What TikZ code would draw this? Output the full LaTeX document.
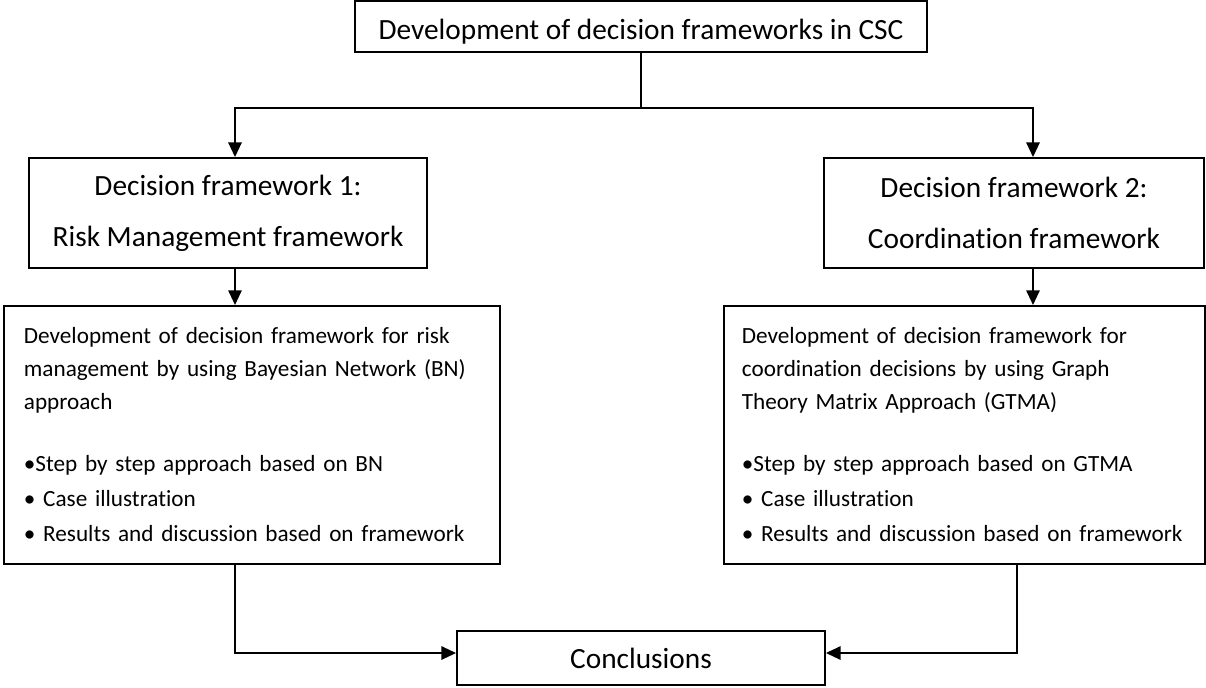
\documentclass[tikz,border=0pt]{standalone}
\usepackage{fontspec}
\setmainfont{Carlito}[Ligatures=NoCommon]
\usetikzlibrary{arrows.meta,positioning}
\newlength{\pxl}
\setlength{\pxl}{0.75pt}
\tikzset{
  >={Triangle[length=11pt,width=10pt]},
  every node/.style = {font=\fontsize{22}{38.25}\selectfont},
  box/.style = {draw, line width=1.4pt, align=center, inner sep=0pt},
  detail/.style = {draw, line width=1.4pt, align=left, inner xsep=20\pxl, inner ysep=0pt,
    minimum height=258\pxl, anchor=north west, font=\fontsize{17.4}{24.75}\selectfont},
  link/.style = {line width=1.4pt}
}

\begin{document}
\begin{tikzpicture}[x=0.75pt, y=-0.75pt]
\useasboundingbox (0,0) rectangle (1206,687);

\node[box, minimum width=572\pxl, minimum height=51\pxl, text height=18.75pt, text depth=0pt] (csc) at (641,26.5) {Development of decision frameworks in CSC};

\node[box, minimum width=398\pxl, minimum height=110\pxl] (fw1) at (228,213) {Decision framework 1:\\Risk Management framework};
\node[box, minimum width=380\pxl, minimum height=110\pxl] (fw2) at (1014,213) {Decision framework 2:\\Coordination framework};

\node[detail, text width=456\pxl] (bn) at (3,305) {Development of decision framework for risk\\management by using Bayesian Network (BN)\\approach\\[21.75pt]•Step by step approach based on BN\\[1.5pt]• Case illustration\\[1.5pt]• Results and discussion based on framework};
\node[detail, text width=445\pxl, inner xsep=18\pxl] (gtma) at (723,305) {Development of decision framework for\\coordination decisions by using Graph\\Theory Matrix Approach (GTMA)\\[21.75pt]•Step by step approach based on GTMA\\[1.5pt]• Case illustration\\[1.5pt]• Results and discussion based on framework};

\node[box, minimum width=368\pxl, minimum height=54\pxl] (concl) at (641,658) {Conclusions};

\coordinate (j1) at (235,108);
\coordinate (j2) at (1033,108);
\coordinate (j3) at (235,653);
\coordinate (j4) at (1017,653);

\draw[link, ->] (csc.south) |- (j1) -- (j1 |- fw1.north);
\draw[link, ->] (csc.south) |- (j2) -- (j2 |- fw2.north);
\draw[link, ->] (fw1.south -| j1) -- (bn.north -| j1);
\draw[link, ->] (fw2.south -| j2) -- (gtma.north -| j2);
\draw[link, ->] (bn.south -| j3) |- (concl.west |- j3);
\draw[link, ->] (gtma.south -| j4) |- (concl.east |- j4);
\end{tikzpicture}
\end{document}
